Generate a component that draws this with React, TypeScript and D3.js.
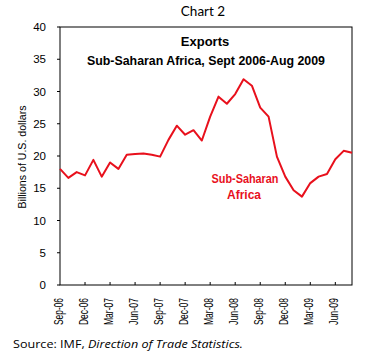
import React from "react";
import * as d3 from "d3";

const months = [
  "Sep-06","Oct-06","Nov-06","Dec-06","Jan-07","Feb-07","Mar-07","Apr-07","May-07","Jun-07","Jul-07","Aug-07",
  "Sep-07","Oct-07","Nov-07","Dec-07","Jan-08","Feb-08","Mar-08","Apr-08","May-08","Jun-08","Jul-08","Aug-08",
  "Sep-08","Oct-08","Nov-08","Dec-08","Jan-09","Feb-09","Mar-09","Apr-09","May-09","Jun-09","Jul-09","Aug-09",
];
const exportsSSA = [
  18.0, 16.6, 17.5, 17.0, 19.4, 16.8, 19.0, 18.0, 20.2, 20.3, 20.4, 20.2,
  19.9, 22.5, 24.7, 23.3, 24.0, 22.4, 26.1, 29.2, 28.1, 29.6, 31.9, 30.9,
  27.5, 26.1, 19.9, 16.8, 14.7, 13.7, 15.8, 16.8, 17.2, 19.5, 20.8, 20.5,
];
const yTicks = [0, 5, 10, 15, 20, 25, 30, 35, 40];
const labelEvery = 3;

const W = 377, H = 353;
const L = 60, R = 352, T = 27, B = 285;
const RED = "#e8101c";
const AX = "Liberation Sans, Arial, sans-serif";

export default function App() {
  const x = d3.scalePoint<string>().domain(months).range([L, R]);
  const y = d3.scaleLinear().domain([0, 40]).range([B, T]);
  const line = d3.line<number>().x((_, i) => x(months[i]) as number).y((d) => y(d));
  const tickMonths = months.filter((_, i) => i % labelEvery === 0);

  return (
    <svg width={W} height={H} style={{ position: "absolute", left: 0, top: 0, background: "#fff" }}>
      <rect x={0} y={0} width={W} height={H} fill="#fff" />
      <text x={203} y={16} textAnchor="middle" fontFamily="Lato, sans-serif" fontSize={13.5} fill="#000">Chart 2</text>
      <rect x={L} y={T} width={R - L} height={B - T} fill="none" stroke="#000" strokeWidth={1} />
      {yTicks.map((t) => (
        <g key={t}>
          <line x1={L - 3} x2={L} y1={y(t)} y2={y(t)} stroke="#000" />
          <text x={46} y={y(t) + 4} textAnchor="end" fontFamily={AX} fontSize={11.5} fill="#000">{t}</text>
        </g>
      ))}
      {tickMonths.map((m, i) => (
        <g key={m}>
          {i > 0 && <line x1={x(m)} x2={x(m)} y1={B} y2={B - 3} stroke="#000" />}
          <text transform={`translate(${(x(m) as number) + 2.5},${298}) rotate(-90)`} textAnchor="end"
            fontFamily={AX} fontSize={12} fill="#000" textLength={27} lengthAdjust="spacingAndGlyphs">{m}</text>
        </g>
      ))}
      <text transform={`translate(26,157) rotate(-90)`} textAnchor="middle" fontFamily={AX} fontSize={11.5} fill="#000"
        textLength={103} lengthAdjust="spacingAndGlyphs">
        Billions of U.S. dollars
      </text>
      <text x={205} y={46} textAnchor="middle" fontFamily={AX} fontSize={13} fontWeight="bold" fill="#000">Exports</text>
      <text x={206} y={65} textAnchor="middle" fontFamily={AX} fontSize={12} fontWeight="bold" fill="#000"
        textLength={238} lengthAdjust="spacingAndGlyphs">Sub-Saharan Africa, Sept 2006-Aug 2009</text>
      <path d={line(exportsSSA) || ""} fill="none" stroke={RED} strokeWidth={2} strokeLinejoin="round" />
      <text x={245} y={183} textAnchor="middle" fontFamily={AX} fontSize={12} fontWeight="bold" fill={RED}
        textLength={67} lengthAdjust="spacingAndGlyphs">Sub-Saharan</text>
      <text x={244} y={199} textAnchor="middle" fontFamily={AX} fontSize={12} fontWeight="bold" fill={RED}>Africa</text>
      <text x={13} y={348} fontFamily="Open Sans, sans-serif" fontSize={11} fill="#000"
        textLength={230} lengthAdjust="spacingAndGlyphs">
        Source: IMF, <tspan fontStyle="italic">Direction of Trade Statistics.</tspan>
      </text>
    </svg>
  );
}
